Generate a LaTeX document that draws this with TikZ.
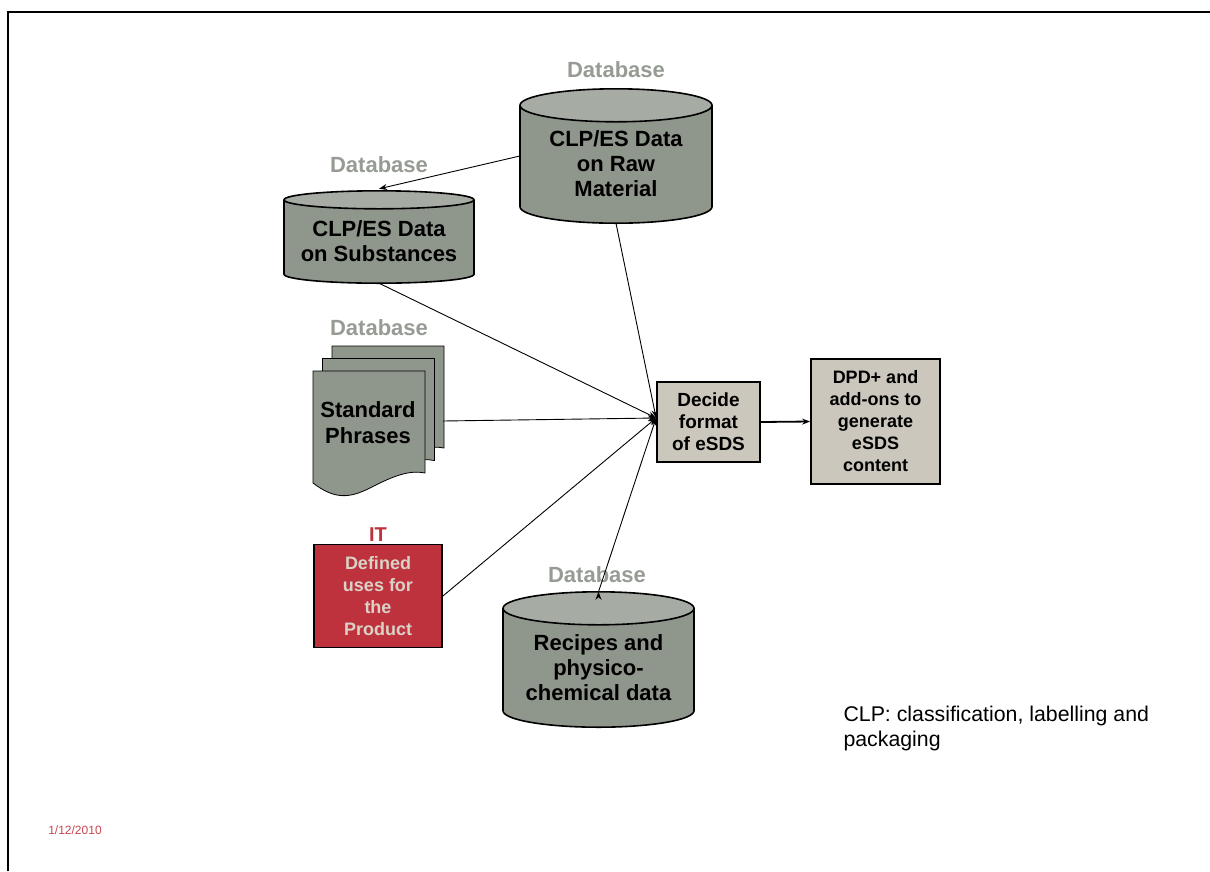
\documentclass[tikz,border=0pt]{standalone}
\usepackage{fontspec}
\setmainfont{Liberation Sans}
\usepackage{tikz}
\usetikzlibrary{arrows.meta, backgrounds}
\definecolor{cylbody}{RGB}{143,150,140}
\definecolor{cyltop}{RGB}{166,171,163}
\definecolor{dbgray}{RGB}{150,155,147}
\definecolor{boxfill}{RGB}{204,199,188}
\definecolor{itred}{RGB}{190,50,62}
\definecolor{ittext}{RGB}{218,210,198}
\definecolor{datered}{RGB}{200,70,80}
\tikzset{> = {Stealth[length=8pt, width=6pt]}}
% text of a cylinder, moved a little from its centre
\newcommand{\cyltext}[2][0pt]{\raisebox{#1}[\height][\depth]{\begin{tabular}{@{}c@{}}#2\end{tabular}}}

\begin{document}
\begin{tikzpicture}[x=1pt, y=-1pt,
  dbase/.style={rectangle, inner sep=0pt, font=\bfseries\fontsize{22}{25}\selectfont},
  dblabel/.style={text=dbgray, font=\bfseries\fontsize{22}{24}\selectfont},
  procbox/.style={draw, line width=1.8pt, fill=boxfill, align=center,
    font=\bfseries\fontsize{18}{22}\selectfont}]
\useasboundingbox (0,0) rectangle (1210,871);
% frame
\draw[line width=2.5pt] (8,871) -- (8,12) -- (1210,12);
% nodes (the body of each cylinder)
\node[dbase, minimum width=192pt, minimum height=101pt] (RM) at (616,156) {\cyltext[-10pt]{CLP/ES Data\\on Raw\\Material}};
\node[dblabel] (RMl) at (616,70) {Database};
\node[dbase, minimum width=190pt, minimum height=74pt] (RS) at (379,237) {\cyltext[-6.5pt]{CLP/ES Data\\on Substances}};
\node[dblabel] (RSl) at (379,165) {Database};
\node[dbase, minimum width=191pt, minimum height=102pt] (RC) at (598.5,659.5) {\cyltext[-10.5pt]{Recipes and\\physico-\\chemical data}};
\node[dblabel] (RCl) at (597,575) {Database};
% cylinder walls, bottoms and tops
\begin{pgfonlayer}{background}
\foreach \n/\w/\r in {RM/96/16.5, RS/95/9, RC/95.5/16.5} {
  \filldraw[fill=cylbody, line width=1.6pt] (\n.south) ellipse[x radius=\w pt, y radius=\r pt];
  \fill[cylbody] (\n.north west) rectangle (\n.south east);
  \draw[line width=1.6pt] (\n.north west) -- (\n.south west) (\n.north east) -- (\n.south east);
  \filldraw[fill=cyltop, line width=1.6pt] (\n.north) ellipse[x radius=\w pt, y radius=\r pt];
}
\end{pgfonlayer}
% sheets of the phrases
\foreach \d in {2,1,0}
  \filldraw[fill=cylbody, draw=black, line width=0.8pt, shift={(9.5*\d,-12.5*\d)}]
    (313,371) -- (425,371) -- (425,473) .. controls (410,470) and (395,475) .. (370,488)
    .. controls (350,498) and (335,500) .. (313,483) -- cycle;
\node[align=center, font=\bfseries\fontsize{22}{26}\selectfont] (SP) at (368,423) {Standard\\Phrases};
\coordinate (SPe) at (443,421);
\node[dblabel] (SPl) at (379,328) {Database};
\node[procbox, fill=itred, text=ittext, minimum width=128pt, minimum height=103pt] (IT) at (378,596) {Defined\\uses for\\the\\Product};
\node[text=itred, font=\bfseries\fontsize{20}{24}\selectfont] (ITl) at (378,535) {IT};
\node[procbox, minimum width=103pt, minimum height=80pt, font=\bfseries\fontsize{19}{22}\selectfont] (DF) at (708.5,422) {Decide\\format\\of eSDS};
\node[procbox, minimum width=129pt, minimum height=125pt] (DPD) at (875.5,421.5) {DPD+ and\\add-ons to\\generate\\eSDS\\content};
\node[anchor=north west, align=left, font=\fontsize{21.3}{25}\selectfont] (note) at (840,703) {CLP: classification, labelling and\\packaging};
\node[text=datered, font=\fontsize{12}{14}\selectfont] (date) at (75,830) {1/12/2010};
% edges
\coordinate (hub) at ([yshift=4pt]DF.west);
\draw[->, line width=0.9pt]
(RM.west)	edge ([yshift=11pt]RS.north)
([yshift=-16.5pt]RM.south)	edge (hub)
([yshift=-9pt]RS.south)	edge (hub)
(SPe)	edge (hub)
(IT.east)	edge (hub)
([yshift=16.5pt]RC.north)	edge (hub);
\draw[->, line width=1.8pt] (DF.east) -- (DPD.west);
\end{tikzpicture}
\end{document}
